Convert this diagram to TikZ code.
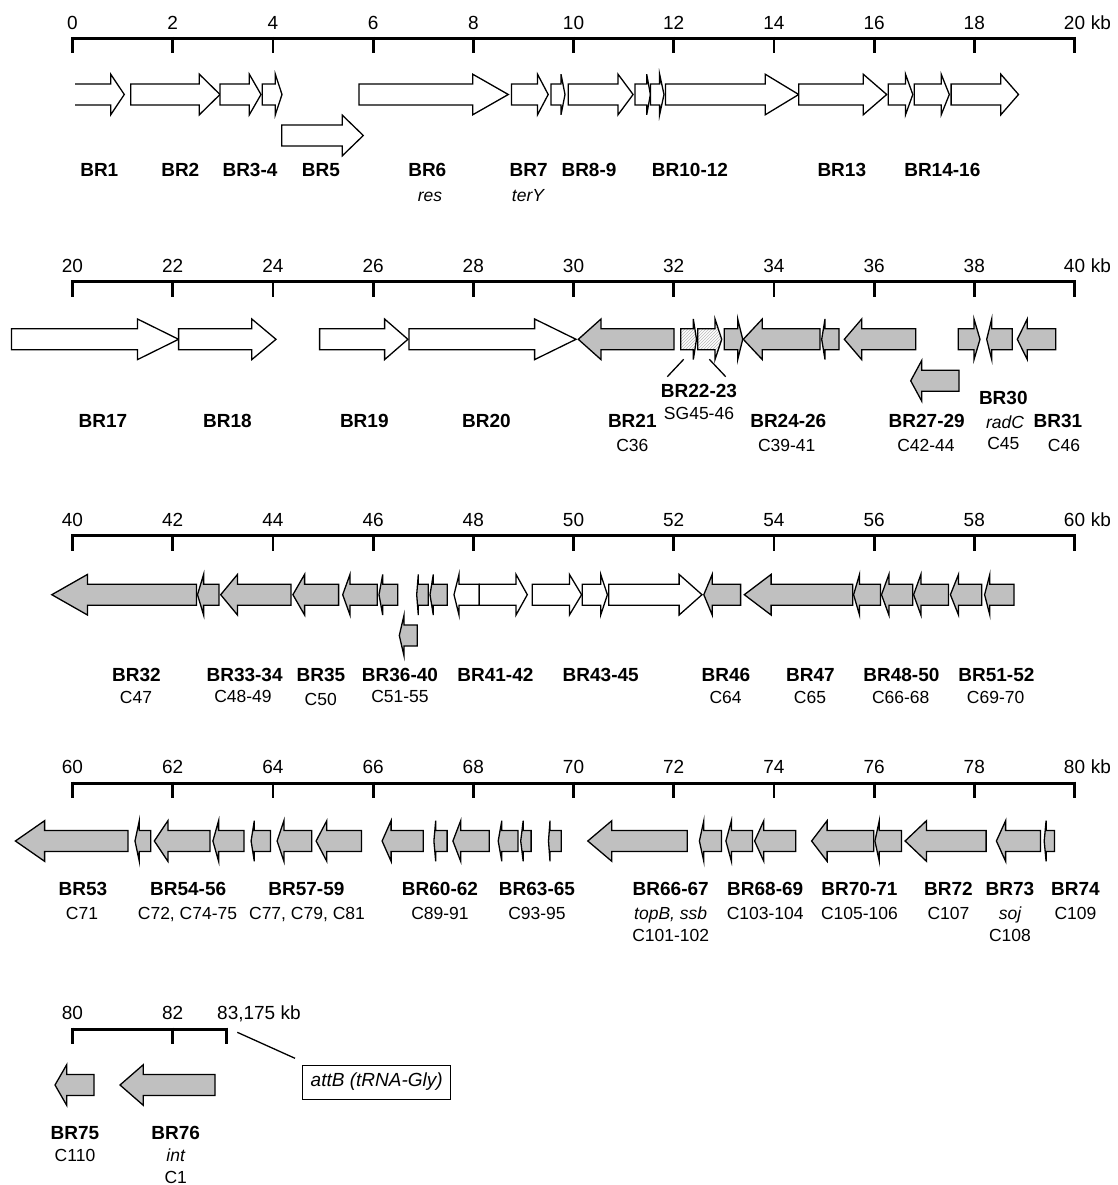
\documentclass[tikz,border=0pt]{standalone}
\usepackage{fontspec}
\setmainfont{Liberation Sans}
\usetikzlibrary{patterns}
\definecolor{genegrey}{RGB}{192,192,192}
\newcommand{\genearrow}[5][]{\draw[gene,#1] (#2,#5-10.5) -- (#3,#5-10.5) -- (#3,#5-20.3) -- (#4,#5) -- (#3,#5+20.3) -- (#3,#5+10.5) -- (#2,#5+10.5) -- cycle;}
\newcommand{\kbaxis}[3]{%
  \draw[axisline] (71.1,#2) -- (1075.9,#2);
  \foreach \i in {0,...,10}{
    \pgfmathsetmacro{\xx}{72.5+100.2*\i}
    \pgfmathtruncatemacro{\lab}{#3+2*\i}
    \draw[tickline] (\xx,#2-1.5) -- (\xx,#2+15);
    \node[numlab] (#1n\i) at (\xx,#2-9.2) {\lab};
  }
  \node[numlab, anchor=base west] (#1kb) at ([xshift=5.3pt]#1n10.base east) {kb};
}
\begin{document}
\begin{tikzpicture}[x=1pt,y=-1pt,
  gene/.style={draw=black, line width=1.3pt, line join=miter, fill=white},
  grey/.style={fill=genegrey},
  hatch/.style={fill=gray!10, pattern=north east lines, pattern color=gray!55},
  axisline/.style={line width=3pt},
  tickline/.style={line width=2.8pt},
  brlab/.style={font=\fontsize{19}{21}\selectfont\bfseries, anchor=base, inner sep=0pt},
  clab/.style={font=\fontsize{17.5}{19}\selectfont, anchor=base, inner sep=0pt},
  itlab/.style={font=\fontsize{17.5}{19}\selectfont\itshape, anchor=base, inner sep=0pt},
  numlab/.style={font=\fontsize{19}{21}\selectfont, anchor=base, inner sep=0pt},
  leader/.style={line width=1.3pt}]
\useasboundingbox (0,0) rectangle (1117,1185);

% ---------------- Row 1 ----------------
\kbaxis{ra}{38.5}{0}
\draw[gene] (75,84) -- (110.7,84) -- (110.7,74.2) -- (124.3,94.5) -- (110.7,114.8) -- (110.7,105) -- (75,105);
\genearrow{130.7}{199.3}{220}{94.5}
\genearrow{220}{249.3}{261}{94.5}
\genearrow{262.3}{275.3}{282}{94.5}
\genearrow{281.7}{342.3}{363.3}{135.5}
\genearrow{359}{472.7}{508.3}{94.5}
\genearrow{511.4}{537.5}{548.2}{94.5}
\genearrow{551}{561}{565}{94.5}
\genearrow{568.3}{618}{633.1}{94.5}
\genearrow{635}{646.7}{650.4}{94.5}
\genearrow{650.4}{659.6}{664}{94.5}
\genearrow{665.5}{765.2}{798.7}{94.5}
\genearrow{798.7}{863.2}{886.7}{94.5}
\genearrow{888.2}{905.5}{912.8}{94.5}
\genearrow{914.3}{941.2}{949.3}{94.5}
\genearrow{951.1}{1000.8}{1018.5}{94.5}
\node[brlab] (br1) at (99.3,177) {BR1};
\node[brlab] (br2) at (180.3,177) {BR2};
\node[brlab] (br34) at (250,177) {BR3-4};
\node[brlab] (br5) at (321,177) {BR5};
\node[brlab] (br6) at (427.3,177) {BR6};
\node[brlab] (br7) at (528.6,177) {BR7};
\node[brlab] (br89) at (589,177) {BR8-9};
\node[brlab] (br1012) at (690,177) {BR10-12};
\node[brlab] (br13) at (841.8,177) {BR13};
\node[brlab] (br1416) at (942.3,177) {BR14-16};
\node[itlab] (res) at (430,201) {res};
\node[itlab] (tery) at (528,201) {terY};

% ---------------- Row 2 ----------------
\kbaxis{rb}{281.5}{20}
\genearrow{11.4}{137.5}{178.6}{339.3}
\genearrow{178.6}{251.8}{276}{339.3}
\genearrow{319.6}{384.6}{407.9}{339.3}
\genearrow{408.9}{534.6}{576}{339.3}
\genearrow[grey]{674}{601}{578.3}{339.3}
\genearrow[hatch]{680.7}{693.3}{696.5}{339.3}
\genearrow[hatch]{697.7}{715}{721.7}{339.3}
\genearrow[grey]{724.3}{737.7}{742.7}{339.3}
\genearrow[grey]{820}{762.3}{743.3}{339.3}
\genearrow[grey]{839}{825}{821.7}{339.3}
\genearrow[grey]{915.7}{861.7}{844.3}{339.3}
\genearrow[grey]{959}{921.7}{910.7}{380.8}
\genearrow[grey]{958.3}{974}{980}{339.3}
\genearrow[grey]{1012.3}{991.7}{986.7}{339.3}
\genearrow[grey]{1055.7}{1027.3}{1017.3}{339.3}
\coordinate (l1a) at (683.7,359.3);
\coordinate (l1b) at (667.3,376.7);
\coordinate (l2a) at (709.3,359.3);
\coordinate (l2b) at (725.7,376.7);
\draw[leader] (l1a) -- (l1b);
\draw[leader] (l2a) -- (l2b);
\node[brlab] (br17) at (102.9,427.6) {BR17};
\node[brlab] (br18) at (227.5,427.6) {BR18};
\node[brlab] (br19) at (364.3,427.6) {BR19};
\node[brlab] (br20) at (486.4,427.6) {BR20};
\node[brlab] (br21) at (632.3,427.6) {BR21};
\node[clab] (c36) at (632.3,451.3) {C36};
\node[brlab] (br2223) at (699,397.6) {BR22-23};
\node[clab] (sg4546) at (699,419.6) {SG45-46};
\node[brlab] (br2426) at (788.3,427.6) {BR24-26};
\node[clab] (c3941) at (786.7,451.3) {C39-41};
\node[brlab] (br2729) at (926.7,427.6) {BR27-29};
\node[clab] (c4244) at (926,451.3) {C42-44};
\node[brlab] (br30) at (1003.3,404.2) {BR30};
\node[itlab] (radc) at (1005,428.6) {radC};
\node[clab] (c45) at (1003.3,449.6) {C45};
\node[brlab] (br31) at (1058,427.6) {BR31};
\node[clab] (c46) at (1064,451.3) {C46};

% ---------------- Row 3 ----------------
\kbaxis{rc}{535.5}{40}
\genearrow[grey]{196.4}{87.5}{51.8}{594.7}
\genearrow[grey]{218.9}{203.6}{197.5}{594.7}
\genearrow[grey]{291}{237.5}{220.7}{594.7}
\genearrow[grey]{338.6}{304.6}{292.9}{594.7}
\genearrow[grey]{377.3}{350}{342.7}{594.7}
\genearrow[grey]{397.7}{382.7}{379}{594.7}
\genearrow[grey]{417.3}{404}{399.3}{635.5}
\genearrow[grey]{428.3}{418.3}{416.7}{594.7}
\genearrow[grey]{447.3}{433.3}{430}{594.7}
\genearrow{479.3}{459}{454}{594.7}
\genearrow{479.3}{516}{527.3}{594.7}
\genearrow{532.3}{569.4}{581.6}{594.7}
\genearrow{582.3}{600.7}{607.4}{594.7}
\genearrow{608.8}{679.1}{702}{594.7}
\genearrow[grey]{740.6}{712.2}{703.8}{594.7}
\genearrow[grey]{852.8}{771.1}{744.3}{594.7}
\genearrow[grey]{880.4}{859.5}{853.6}{594.7}
\genearrow[grey]{912.8}{888.9}{881.5}{594.7}
\genearrow[grey]{948.5}{920.9}{913.6}{594.7}
\genearrow[grey]{981.7}{958.5}{950.4}{594.7}
\genearrow[grey]{1014}{989.8}{984.6}{594.7}
\node[brlab] (br32) at (136.4,681.9) {BR32};
\node[clab] (c47) at (136,703.2) {C47};
\node[brlab] (br3334) at (244.6,681.9) {BR33-34};
\node[clab] (c4849) at (243,702.2) {C48-49};
\node[brlab] (br35) at (321,681.9) {BR35};
\node[clab] (c50) at (320.7,705.7) {C50};
\node[brlab] (br3640) at (400,681.9) {BR36-40};
\node[clab] (c5155) at (400,702.2) {C51-55};
\node[brlab] (br4142) at (495.4,681.9) {BR41-42};
\node[brlab] (br4345) at (600.7,681.9) {BR43-45};
\node[brlab] (br46) at (725.9,681.9) {BR46};
\node[clab] (c64) at (725.6,703.2) {C64};
\node[brlab] (br47) at (810.5,681.9) {BR47};
\node[clab] (c65) at (810,703.2) {C65};
\node[brlab] (br4850) at (901.4,681.9) {BR48-50};
\node[clab] (c6668) at (900.7,703.2) {C66-68};
\node[brlab] (br5152) at (996.4,681.9) {BR51-52};
\node[clab] (c6970) at (995.6,703.2) {C69-70};

% ---------------- Row 4 ----------------
\kbaxis{rd}{783}{60}
\genearrow[grey]{127.9}{44.6}{15.4}{841}
\genearrow[grey]{150.7}{139.3}{135}{841}
\genearrow[grey]{210}{167.9}{154.3}{841}
\genearrow[grey]{243.9}{218.6}{212.9}{841}
\genearrow[grey]{270.4}{254.3}{251.1}{841}
\genearrow[grey]{311.8}{283.9}{277.1}{841}
\genearrow[grey]{361.4}{326.8}{316.1}{841}
\genearrow[grey]{423.2}{391.1}{382.1}{841}
\genearrow[grey]{447.1}{435.7}{433.9}{841}
\genearrow[grey]{489.3}{460.7}{452.9}{841}
\genearrow[grey]{517.9}{501.8}{498.2}{841}
\genearrow[grey]{531.1}{523.2}{520.7}{841}
\genearrow[grey]{561.3}{550}{548.5}{841}
\genearrow[grey]{687.2}{611.8}{587.8}{841}
\genearrow[grey]{721.4}{703.8}{699.4}{841}
\genearrow[grey]{752.4}{731.4}{725.9}{841}
\genearrow[grey]{795.8}{763.8}{754.6}{841}
\genearrow[grey]{873.8}{827.1}{811.6}{841}
\genearrow[grey]{901.4}{879.3}{874.9}{841}
\genearrow[grey]{986.1}{926.5}{905.1}{841}
\genearrow[grey]{1040.5}{1005.6}{996.4}{841}
\genearrow[grey]{1054.5}{1046.1}{1044.2}{841}
\node[brlab] (br53) at (82.9,895.9) {BR53};
\node[clab] (c71) at (82,919.2) {C71};
\node[brlab] (br5456) at (188.2,895.9) {BR54-56};
\node[clab] (c7275) at (187.5,919.2) {C72, C74-75};
\node[brlab] (br5759) at (306.4,895.9) {BR57-59};
\node[clab] (c7781) at (307,919.2) {C77, C79, C81};
\node[brlab] (br6062) at (440,895.9) {BR60-62};
\node[clab] (c8991) at (440,919.2) {C89-91};
\node[brlab] (br6365) at (537,895.9) {BR63-65};
\node[clab] (c9395) at (537,919.2) {C93-95};
\node[brlab] (br6667) at (670.7,895.9) {BR66-67};
\node[itlab] (topb) at (670.7,919.2) {topB, ssb};
\node[clab] (c101) at (670.7,941.2) {C101-102};
\node[brlab] (br6869) at (765.2,895.9) {BR68-69};
\node[clab] (c103) at (765.2,919.2) {C103-104};
\node[brlab] (br7071) at (859.5,895.9) {BR70-71};
\node[clab] (c105) at (859.5,919.2) {C105-106};
\node[brlab] (br72) at (948.5,895.9) {BR72};
\node[clab] (c107) at (948.5,919.2) {C107};
\node[brlab] (br73) at (1010,895.9) {BR73};
\node[itlab] (soj) at (1010,919.2) {soj};
\node[clab] (c108) at (1010,941.2) {C108};
\node[brlab] (br74) at (1075.5,895.9) {BR74};
\node[clab] (c109) at (1075.5,919.2) {C109};

% ---------------- Row 5 ----------------
\draw[axisline] (71.1,1029) -- (228.1,1029);
\draw[tickline] (72.5,1027.5) -- (72.5,1044);
\draw[tickline] (172.7,1027.5) -- (172.7,1044);
\draw[tickline] (226.7,1027.5) -- (226.7,1044);
\node[numlab] (re0) at (72.5,1019.8) {80};
\node[numlab] (re1) at (172.7,1019.8) {82};
\node[numlab, anchor=base west] (re2) at (217,1019.8) {83,175 kb};
\genearrow[grey]{94}{66.7}{55}{1085}
\genearrow[grey]{215}{143.3}{120}{1085}
\node[draw, line width=1pt, inner sep=0pt, minimum width=148pt, minimum height=34pt,
      font=\fontsize{19}{21}\selectfont\itshape] (attb) at (376.7,1082) {attB (tRNA-Gly)};
\coordinate (la1) at (237.3,1032.3);
\coordinate (la2) at (295,1058.3);
\draw[leader] (la1) -- (la2);
\node[brlab] (br75) at (75,1139.9) {BR75};
\node[clab] (c110) at (75,1161.2) {C110};
\node[brlab] (br76) at (175.7,1139.9) {BR76};
\node[itlab] (int) at (175.7,1161.2) {int};
\node[clab] (c1) at (175.7,1183) {C1};
\end{tikzpicture}
\end{document}
